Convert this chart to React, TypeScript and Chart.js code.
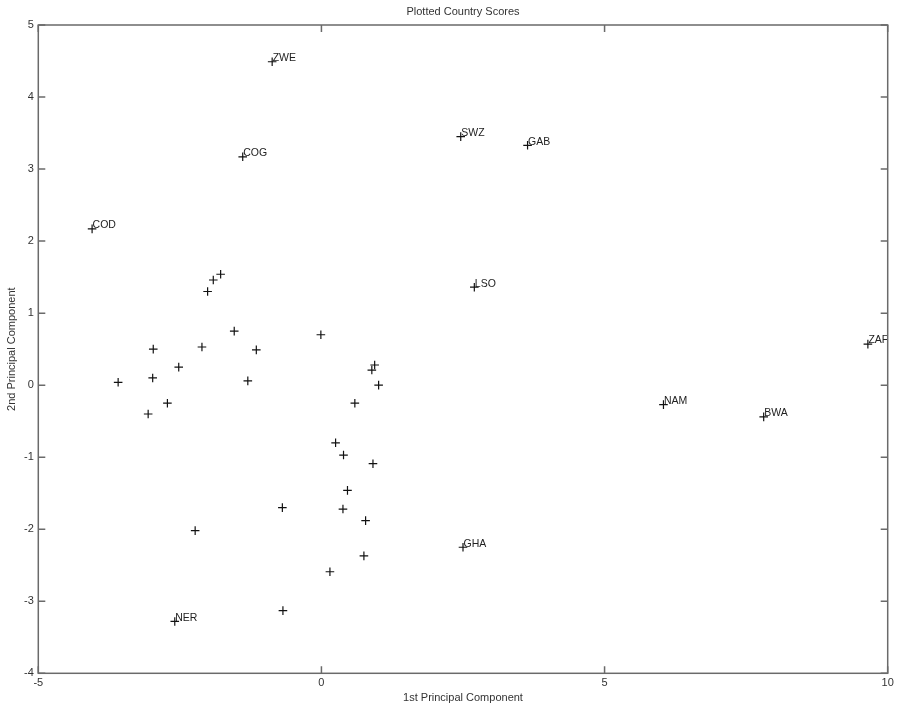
import React, { useEffect, useRef } from "react";
import { Chart, registerables } from "chart.js";

Chart.register(...registerables);

const chartTitle = "Plotted Country Scores";
const xAxisTitle = "1st Principal Component";
const yAxisTitle = "2nd Principal Component";

const xTickValues = [-5, 0, 5, 10];
const yTickValues = [-4, -3, -2, -1, 0, 1, 2, 3, 4, 5];

// Country codes ('' = unlabeled point)
const countryCodes = [
  "ZWE", "COG", "COD", "SWZ", "GAB", "LSO", "ZAF", "NAM", "BWA", "GHA", "NER",
  "", "", "", "", "", "", "", "", "", "", "",
  "", "", "", "", "", "", "", "", "", "",
  "", "", "", "", "", "", "", "",
];
const pc1Scores = [
  -0.87, -1.39, -4.05, 2.46, 3.64, 2.7, 9.65, 6.04, 7.81, 2.5, -2.59,
  -3.59, -2.97, -2.98, -3.06, -2.72, -2.52, -2.11, -2.01, -1.91, -1.78, -1.54,
  -1.15, -1.3, -0.01, 0.94, 0.89, 1.01, 0.59, 0.25, 0.39, 0.91,
  0.46, -0.69, 0.38, 0.78, -2.23, 0.75, 0.15, -0.68,
];
const pc2Scores = [
  4.49, 3.17, 2.17, 3.45, 3.33, 1.36, 0.57, -0.27, -0.44, -2.25, -3.28,
  0.04, 0.5, 0.1, -0.4, -0.25, 0.25, 0.53, 1.3, 1.46, 1.54, 0.75,
  0.49, 0.06, 0.7, 0.28, 0.21, 0.0, -0.25, -0.8, -0.97, -1.09,
  -1.46, -1.7, -1.72, -1.88, -2.02, -2.37, -2.59, -3.13,
];

const FONT = "'Liberation Sans', Arial, Helvetica, sans-serif";
const TEXT_COLOR = "#333333";
const AXIS_COLOR = "#6a6a6a";

const boxPlugin = {
  id: "matlabBox",
  afterDatasetsDraw(chart: any) {
    const { ctx, chartArea, scales } = chart;
    const { left, right, top, bottom } = chartArea;
    const xs = scales.x;
    const ys = scales.y;
    ctx.save();
    // labels
    ctx.font = `10.5px ${FONT}`;
    ctx.fillStyle = "#222222";
    ctx.textAlign = "left";
    ctx.textBaseline = "middle";
    countryCodes.forEach((code, i) => {
      if (!code) return;
      const px = xs.getPixelForValue(pc1Scores[i]);
      const py = ys.getPixelForValue(pc2Scores[i]);
      ctx.fillText(code, px + 0.5, py - 3.5);
    });
    // box
    ctx.strokeStyle = AXIS_COLOR;
    ctx.lineWidth = 1.5;
    ctx.strokeRect(left, top, right - left, bottom - top);
    // inward ticks
    const tl = 7;
    ctx.beginPath();
    xTickValues.forEach((v) => {
      const px = xs.getPixelForValue(v);
      ctx.moveTo(px, bottom);
      ctx.lineTo(px, bottom - tl);
      ctx.moveTo(px, top);
      ctx.lineTo(px, top + tl);
    });
    yTickValues.forEach((v) => {
      const py = ys.getPixelForValue(v);
      ctx.moveTo(left, py);
      ctx.lineTo(left + tl, py);
      ctx.moveTo(right, py);
      ctx.lineTo(right - tl, py);
    });
    ctx.stroke();
    ctx.restore();
  },
};

export default function App() {
  const canvasRef = useRef<HTMLCanvasElement | null>(null);

  useEffect(() => {
    if (!canvasRef.current) return;
    const points = pc1Scores.map((x, i) => ({ x, y: pc2Scores[i] }));
    const chart = new Chart(canvasRef.current, {
      type: "scatter",
      data: {
        datasets: [
          {
            data: points,
            pointStyle: "cross",
            pointRadius: 4.3,
            pointBorderWidth: 1.2,
            pointBorderColor: "#111111",
            pointBackgroundColor: "#111111",
            pointHoverRadius: 4.3,
          },
        ],
      },
      options: {
        animation: false,
        responsive: false,
        devicePixelRatio: 1,
        layout: { padding: { left: 0, right: 10.3, top: 0, bottom: 0 } },
        plugins: {
          legend: { display: false },
          tooltip: { enabled: false },
          title: {
            display: true,
            text: chartTitle,
            fullSize: false,
            color: TEXT_COLOR,
            font: { family: FONT, size: 11, weight: "normal" },
            padding: { top: 5, bottom: 6.8 },
          },
        },
        scales: {
          x: {
            type: "linear",
            min: -5,
            max: 10,
            afterBuildTicks: (scale: any) => {
              scale.ticks = xTickValues.map((v) => ({ value: v }));
            },
            afterFit: (scale: any) => {
              scale.height = 31.7;
            },
            grid: { display: false, drawTicks: false },
            border: { display: false },
            ticks: {
              color: TEXT_COLOR,
              font: { family: FONT, size: 11 },
              padding: 3,
              maxRotation: 0,
              autoSkip: false,
            },
            title: {
              display: true,
              text: xAxisTitle,
              color: TEXT_COLOR,
              font: { family: FONT, size: 11 },
              padding: { top: 0, bottom: 0 },
            },
          },
          y: {
            type: "linear",
            min: -4,
            max: 5,
            afterBuildTicks: (scale: any) => {
              scale.ticks = yTickValues.map((v) => ({ value: v }));
            },
            afterFit: (scale: any) => {
              scale.width = 38.3;
            },
            grid: { display: false, drawTicks: false },
            border: { display: false },
            ticks: {
              color: TEXT_COLOR,
              font: { family: FONT, size: 11 },
              padding: 4.5,
              autoSkip: false,
            },
            title: {
              display: true,
              text: yAxisTitle,
              color: TEXT_COLOR,
              font: { family: FONT, size: 11 },
              padding: { top: 5.7, bottom: 0 },
            },
          },
        },
      },
      plugins: [boxPlugin],
    });
    return () => chart.destroy();
  }, []);

  return (
    <div
      style={{
        position: "fixed",
        left: 0,
        top: 0,
        width: 898,
        height: 705,
        background: "#ffffff",
      }}
    >
      <canvas ref={canvasRef} width={898} height={705} />
    </div>
  );
}
